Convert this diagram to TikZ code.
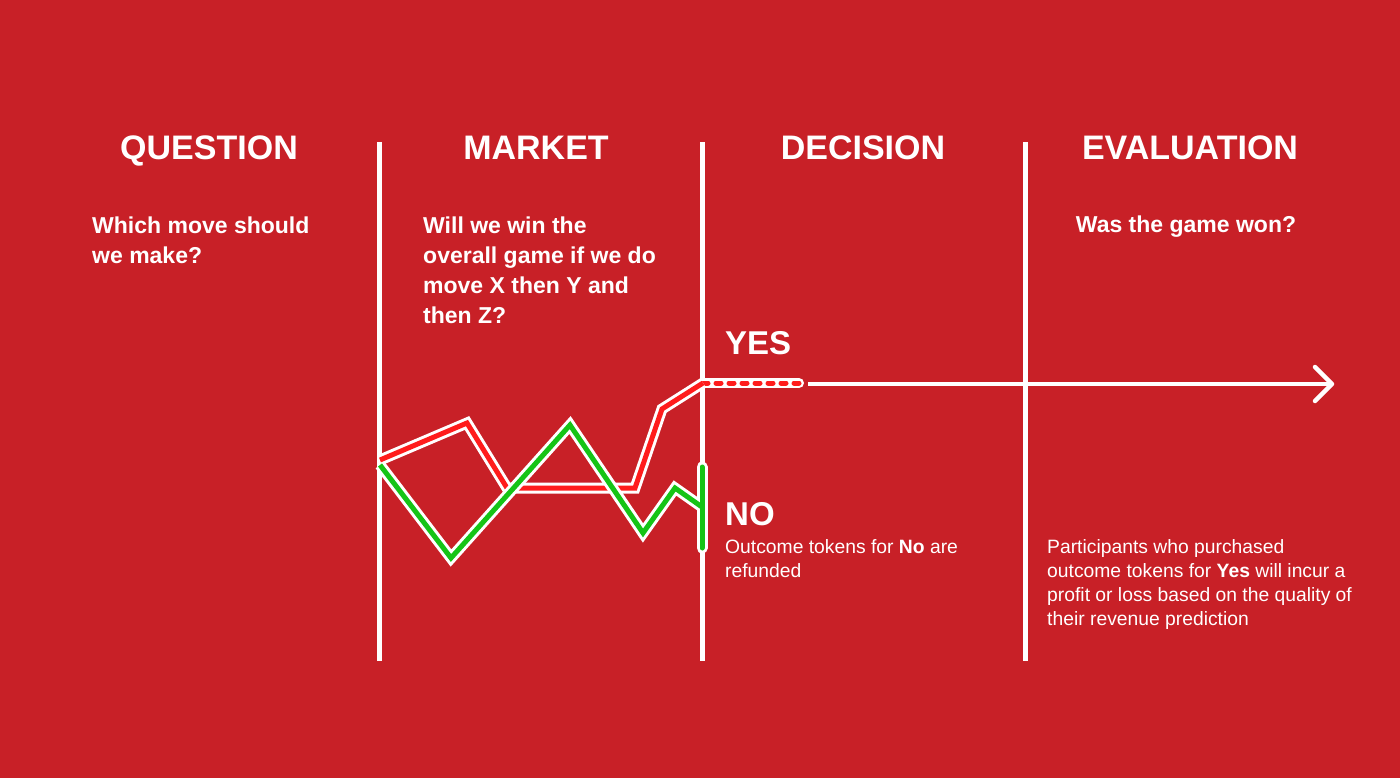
\documentclass[tikz,border=0pt]{standalone}
\usepackage{fontspec}
\setmainfont{Liberation Sans}
\definecolor{bg}{RGB}{200,32,39}
\definecolor{lred}{RGB}{255,28,28}
\definecolor{lgreen}{RGB}{22,196,22}
\begin{document}
\begin{tikzpicture}[x=1pt,y=-1pt,
  divider/.style={white, line width=5pt},
  head/.style={text=white, font=\fontsize{34}{40}\selectfont\bfseries, inner sep=0, anchor=base},
  quest/.style={text=white, font=\fontsize{23}{30}\selectfont\bfseries, align=left, inner sep=0, anchor=base west},
  answer/.style={text=white, font=\fontsize{33}{40}\selectfont\bfseries, inner sep=0, anchor=base west},
  note/.style={text=white, font=\fontsize{19.3}{24}\selectfont, align=left, inner sep=0, anchor=base west},
  outline/.style={white, line width=11pt, line join=miter},
  redline/.style={lred, line width=5pt, line join=miter},
  greenline/.style={lgreen, line width=5pt, line join=miter}]
\fill[bg] (0,0) rectangle (1400,778);
\useasboundingbox (0,0) rectangle (1400,778);
% dividers
\coordinate (d1t) at (379,142); \coordinate (d1b) at (379,661);
\coordinate (d2t) at (702,142); \coordinate (d2b) at (702,661);
\coordinate (d3t) at (1025,142); \coordinate (d3b) at (1025,661);
\draw[divider] (d1t) -- (d1b);
\draw[divider] (d2t) -- (d2b);
\draw[divider] (d3t) -- (d3b);
% headers
\node[head] (hq) at (209,160) {QUESTION};
\node[head] (hm) at (536,160) {MARKET};
\node[head] (hd) at (863,160) {DECISION};
\node[head] (he) at (1190,160) {EVALUATION};
% questions (base anchor = last line)
\node[quest] (tq) at (92,263) {Which move should\\we make?};
\node[quest] (tm) at (423,323) {Will we win the\\overall game if we do\\move X then Y and\\then Z?};
\node[quest, anchor=base] (te) at (1186,233) {Was the game won?};
% answers
\node[answer] (yes) at (725,354) {YES};
\node[answer] (no) at (725,525) {NO};
\node[note] (tno) at (725,577) {Outcome tokens for \textbf{No} are\\refunded};
\node[note] (tev) at (1047,625) {Participants who purchased\\outcome tokens for \textbf{Yes} will incur a\\profit or loss based on the quality of\\their revenue prediction};
% arrow
\coordinate (as) at (808,384); \coordinate (ae) at (1332,384);
\coordinate (ah1) at (1315,367); \coordinate (ah2) at (1315,401);
\draw[white, line width=4pt] (as) -- (ae);
\draw[white, line width=4.5pt, line cap=round, line join=round] (ah1) -- (ae) -- (ah2);
% red path
\coordinate (r0) at (380,460); \coordinate (r1) at (467,423); \coordinate (r2) at (507,488);
\coordinate (r3) at (635,488); \coordinate (r4) at (662,409); \coordinate (r5) at (703,383);
\coordinate (r6) at (799,383);
\draw[white, line width=10pt, line cap=round] (r5) -- (r6);
\draw[lred, line width=5pt, line cap=round, dash pattern=on 5pt off 8pt] (r5) -- (r6);
\draw[outline] (r0) -- (r1) -- (r2) -- (r3) -- (r4) -- (r5);
\draw[redline] (r0) -- (r1) -- (r2) -- (r3) -- (r4) -- (r5);
% green path
\coordinate (g0) at (380,465); \coordinate (g1) at (451,558); \coordinate (g2) at (570,425);
\coordinate (g3) at (643,533); \coordinate (g4) at (675,488); \coordinate (g5) at (702,507);
\coordinate (gb1) at (702,467); \coordinate (gb2) at (702,548);
\draw[outline] (g0) -- (g1) -- (g2) -- (g3) -- (g4) -- (g5);
\draw[white, line width=11pt, line cap=round] (gb1) -- (gb2);
\draw[greenline] (g0) -- (g1) -- (g2) -- (g3) -- (g4) -- (g5);
\draw[lgreen, line width=5pt, line cap=round] (gb1) -- (gb2);
\end{tikzpicture}
\end{document}
